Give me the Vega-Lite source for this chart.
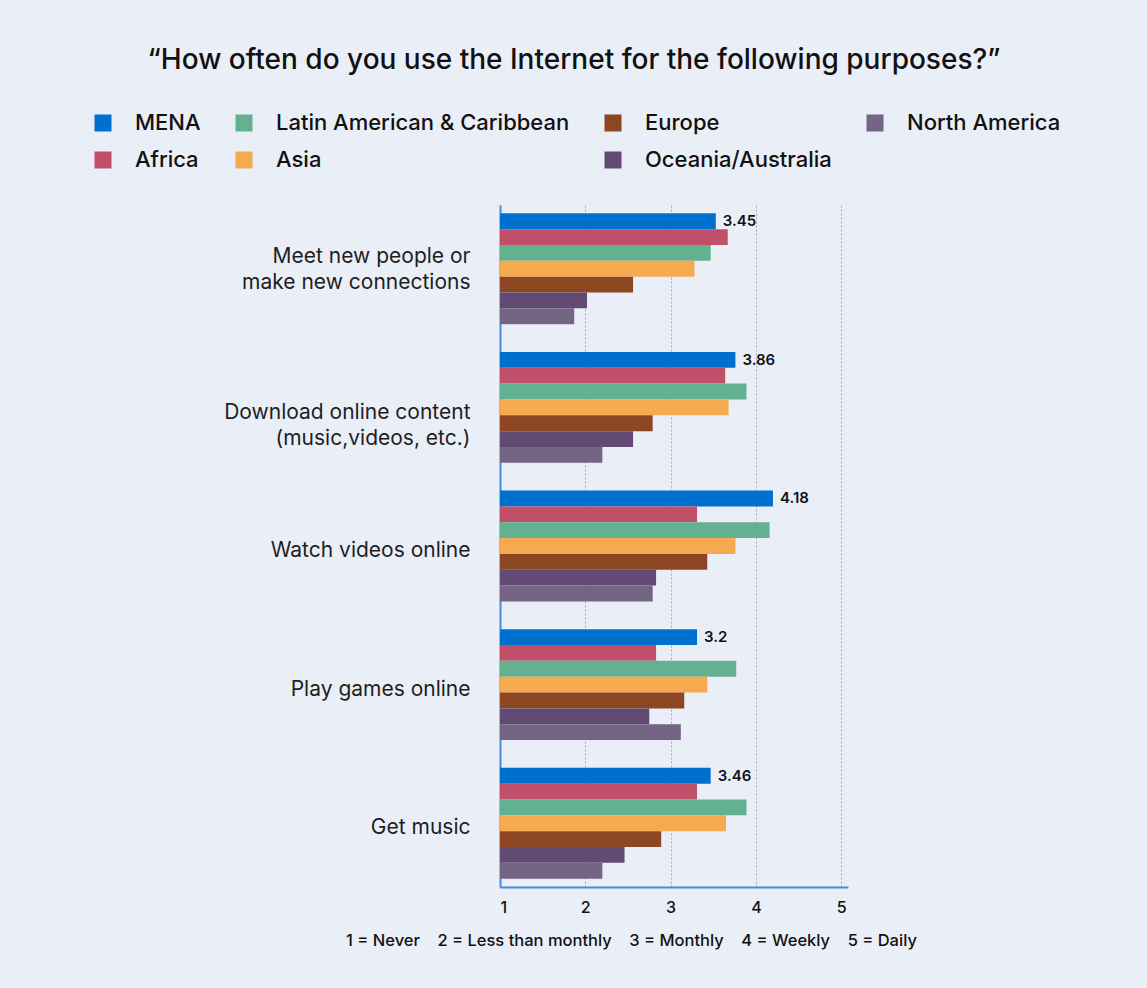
{
  "$schema": "https://vega.github.io/schema/vega-lite/v6.json",
  "width": 348,
  "height": 682,
  "autosize": {"type": "none"},
  "padding": {"left": 500, "top": 205, "right": 299, "bottom": 101},
  "background": "#EAEEF7",
  "config": {"view": {"stroke": null}, "font": "Inter"},
  "title": {
    "text": "“How often do you use the Internet for the following purposes?”",
    "fontSize": 28,
    "fontWeight": 500,
    "color": "#111111",
    "anchor": "middle",
    "frame": "group",
    "dx": -100,
    "offset": 37
  },
  "data": {
    "values": [
      {"question": "Meet new people or|make new connections", "region": "MENA", "value": 3.53, "label": "3.45"},
      {"question": "Meet new people or|make new connections", "region": "Africa", "value": 3.67},
      {"question": "Meet new people or|make new connections", "region": "Latin American & Caribbean", "value": 3.47},
      {"question": "Meet new people or|make new connections", "region": "Asia", "value": 3.28},
      {"question": "Meet new people or|make new connections", "region": "Europe", "value": 2.56},
      {"question": "Meet new people or|make new connections", "region": "Oceania/Australia", "value": 2.02},
      {"question": "Meet new people or|make new connections", "region": "North America", "value": 1.87},
      {"question": "Download online content|(music,videos, etc.)", "region": "MENA", "value": 3.76, "label": "3.86"},
      {"question": "Download online content|(music,videos, etc.)", "region": "Africa", "value": 3.64},
      {"question": "Download online content|(music,videos, etc.)", "region": "Latin American & Caribbean", "value": 3.89},
      {"question": "Download online content|(music,videos, etc.)", "region": "Asia", "value": 3.68},
      {"question": "Download online content|(music,videos, etc.)", "region": "Europe", "value": 2.79},
      {"question": "Download online content|(music,videos, etc.)", "region": "Oceania/Australia", "value": 2.56},
      {"question": "Download online content|(music,videos, etc.)", "region": "North America", "value": 2.2},
      {"question": "Watch videos online", "region": "MENA", "value": 4.2, "label": "4.18"},
      {"question": "Watch videos online", "region": "Africa", "value": 3.31},
      {"question": "Watch videos online", "region": "Latin American & Caribbean", "value": 4.16},
      {"question": "Watch videos online", "region": "Asia", "value": 3.76},
      {"question": "Watch videos online", "region": "Europe", "value": 3.43},
      {"question": "Watch videos online", "region": "Oceania/Australia", "value": 2.83},
      {"question": "Watch videos online", "region": "North America", "value": 2.79},
      {"question": "Play games online", "region": "MENA", "value": 3.31, "label": "3.2"},
      {"question": "Play games online", "region": "Africa", "value": 2.83},
      {"question": "Play games online", "region": "Latin American & Caribbean", "value": 3.77},
      {"question": "Play games online", "region": "Asia", "value": 3.43},
      {"question": "Play games online", "region": "Europe", "value": 3.16},
      {"question": "Play games online", "region": "Oceania/Australia", "value": 2.75},
      {"question": "Play games online", "region": "North America", "value": 3.12},
      {"question": "Get music", "region": "MENA", "value": 3.47, "label": "3.46"},
      {"question": "Get music", "region": "Africa", "value": 3.31},
      {"question": "Get music", "region": "Latin American & Caribbean", "value": 3.89},
      {"question": "Get music", "region": "Asia", "value": 3.65},
      {"question": "Get music", "region": "Europe", "value": 2.89},
      {"question": "Get music", "region": "Oceania/Australia", "value": 2.46},
      {"question": "Get music", "region": "North America", "value": 2.2}
    ]
  },
  "encoding": {
    "y": {
      "field": "question",
      "type": "nominal",
      "sort": ["Meet new people or|make new connections", "Download online content|(music,videos, etc.)", "Watch videos online", "Play games online", "Get music"],
      "scale": {"paddingInner": 0.2, "paddingOuter": 0.06},
      "axis": {
        "title": null,
        "labelExpr": "split(datum.value, '|')",
        "labelFontSize": 21,
        "labelFontWeight": 400,
        "labelColor": "#1E1E1E",
        "labelPadding": 30,
        "labelLineHeight": 26,
        "labelLimit": 400,
        "labelOffset": {
          "condition": [
            {"test": "indexof(datum.value, 'Meet') >= 0", "value": -12},
            {"test": "indexof(datum.value, 'Download') >= 0", "value": 6}
          ],
          "value": 5
        },
        "ticks": false,
        "grid": false,
        "domainColor": "#3E8EDB",
        "domainWidth": 2
      }
    },
    "yOffset": {
      "field": "region",
      "type": "nominal",
      "sort": ["MENA", "Africa", "Latin American & Caribbean", "Asia", "Europe", "Oceania/Australia", "North America"],
      "scale": {"paddingInner": 0, "paddingOuter": 0}
    }
  },
  "layer": [
    {
      "mark": {"type": "bar"},
      "encoding": {
        "x": {
          "field": "value",
          "type": "quantitative",
          "scale": {"domain": [1, 5.08], "nice": false, "zero": false},
          "axis": {
            "values": [1, 2, 3, 4, 5],
            "format": "d",
            "title": "1 = Never\u00a0\u00a0\u00a0\u00a02 = Less than monthly\u00a0\u00a0\u00a0\u00a03 = Monthly\u00a0\u00a0\u00a0\u00a04 = Weekly\u00a0\u00a0\u00a0\u00a05 = Daily",
            "titleFontSize": 16.5,
            "titleFontWeight": 500,
            "titleColor": "#111111",
            "titleX": 131,
            "titleAlign": "center",
            "titlePadding": 17,
            "grid": true,
            "gridDash": [2, 2],
            "gridColor": "#A7ABB5",
            "gridWidth": 1,
            "ticks": false,
            "domainColor": "#3E8EDB",
            "domainWidth": 2,
            "labelFontSize": 16,
            "labelFontWeight": 500,
            "labelColor": "#111111",
            "labelPadding": 12
          }
        },
        "x2": {"datum": 1},
        "color": {
          "field": "region",
          "type": "nominal",
          "scale": {
            "domain": ["MENA", "Latin American & Caribbean", "Europe", "North America", "Africa", "Asia", "Oceania/Australia"],
            "range": ["#0070CE", "#64B192", "#8C4722", "#756585", "#C0506A", "#F5AA50", "#634A75"]
          },
          "legend": {
            "title": null,
            "orient": "none",
            "legendX": -408,
            "legendY": -93,
            "columns": 4,
            "direction": "horizontal",
            "columnPadding": 32,
            "rowPadding": 15,
            "symbolType": "square",
            "symbolSize": 289,
            "symbolStrokeWidth": 0,
            "symbolOpacity": 1,
            "labelFontSize": 22,
            "labelFontWeight": 500,
            "labelColor": "#111111",
            "labelOffset": 21,
            "labelLimit": 400
          }
        }
      }
    },
    {
      "transform": [{"filter": "datum.region === 'MENA'"}],
      "mark": {"type": "text", "align": "left", "baseline": "middle", "dx": 7, "fontSize": 15, "fontWeight": 600, "color": "#111111"},
      "encoding": {
        "x": {"field": "value", "type": "quantitative"},
        "text": {"field": "label"}
      }
    }
  ]
}
